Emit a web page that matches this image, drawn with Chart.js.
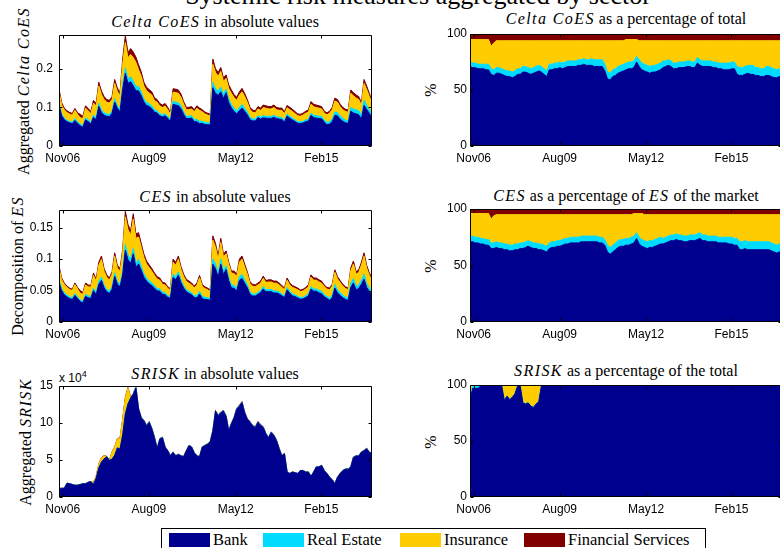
<!DOCTYPE html>
<html>
<head>
<meta charset="utf-8">
<script src="https://cdn.jsdelivr.net/npm/chart.js@4.4.0/dist/chart.umd.min.js"></script>
<style>
body { margin: 0; width: 780px; height: 548px; overflow: hidden; background: #fff; position: relative; font-family: 'Liberation Serif', serif; color: #000; }
canvas { position: absolute; }
.t { position: absolute; font-size: 16px; line-height: 16px; white-space: nowrap; transform: translateX(-50%); }
.yl { position: absolute; font-size: 16px; line-height: 16px; white-space: nowrap; transform: translate(-50%, -50%) rotate(-90deg); }
i { letter-spacing: 1.4px; }
#main { position: absolute; left: 418px; top: -17px; font-size: 26px; line-height: 26px; white-space: nowrap; transform: translateX(-50%); }
#exp { position: absolute; left: 59px; top: 369px; font: 12px 'Liberation Sans', sans-serif; }
#legend { position: absolute; left: 161px; top: 528px; width: 543px; height: 40px; border: 1px solid #000; background: #fff; }
#legend span { position: absolute; }
#legend .sw { top: 4px; width: 41px; height: 14px; }
#legend .lb { top: 2px; font-size: 16.5px; line-height: 18px; white-space: nowrap; }
</style>
</head>
<body>
<div id="main">Systemic risk measures aggregated by sector</div>

<div class="t" style="left:215px;top:14px"><i>Celta CoES</i> in absolute values</div>
<div class="t" style="left:626px;top:11px"><i>Celta CoES</i> as a percentage of total</div>
<div class="t" style="left:215px;top:189px"><i>CES</i> in absolute values</div>
<div class="t" style="left:626px;top:188px"><i>CES</i> as a percentage of <i>ES</i> of the market</div>
<div class="t" style="left:215px;top:366px"><i>SRISK</i> in absolute values</div>
<div class="t" style="left:626px;top:363px"><i>SRISK</i> as a percentage of the total</div>

<div class="yl" style="left:24px;top:91px">Aggregated <i>Celta CoES</i></div>
<div class="yl" style="left:18px;top:266px">Decomposition of <i>ES</i></div>
<div class="yl" style="left:26px;top:442px">Aggregated <i>SRISK</i></div>
<div class="yl" style="left:431px;top:90px">%</div>
<div class="yl" style="left:431px;top:266px">%</div>
<div class="yl" style="left:431px;top:442px">%</div>
<div id="exp">x 10<sup style="font-size:9px">4</sup></div>

<canvas id="c1" width="378" height="143" style="left:0;top:25px"></canvas>
<canvas id="c2" width="378" height="144" style="left:0;top:200px"></canvas>
<canvas id="c3" width="378" height="143" style="left:0;top:376px"></canvas>
<canvas id="c4" width="358" height="144" style="left:430px;top:24px"></canvas>
<canvas id="c5" width="358" height="145" style="left:430px;top:199px"></canvas>
<canvas id="c6" width="358" height="144" style="left:430px;top:375px"></canvas>

<div id="legend"></div>

<script>
const sectors = ['Bank', 'Real Estate', 'Insurance', 'Financial Services'];
const sectorColors = ['#00008f', '#00dcff', '#ffcc00', '#800000'];

// monthly samples, Oct 2006 .. Aug 2016
const tickLabels = ['Nov06', 'Aug09', 'May12', 'Feb15'];
const tickAt = [1.4, 33.9, 66.6, 98.9];

// aggregated totals (top of the stack)
const coesTotal = [0.148,0.112,0.098,0.091,0.087,0.084,0.097,0.086,0.082,0.077,
  0.104,0.097,0.089,0.118,0.110,0.165,0.142,0.128,0.120,0.118,
  0.128,0.172,0.150,0.138,0.225,0.285,0.242,0.252,0.243,0.230,
  0.210,0.192,0.165,0.152,0.146,0.140,0.125,0.120,0.110,0.106,
  0.110,0.100,0.087,0.148,0.147,0.145,0.134,0.115,0.100,0.100,
  0.102,0.094,0.104,0.098,0.094,0.088,0.085,0.082,0.225,0.200,
  0.190,0.203,0.176,0.184,0.158,0.145,0.133,0.126,0.140,0.149,
  0.136,0.120,0.100,0.093,0.091,0.102,0.098,0.106,0.104,0.102,
  0.102,0.106,0.100,0.098,0.098,0.089,0.105,0.100,0.095,0.089,
  0.083,0.082,0.085,0.090,0.093,0.115,0.108,0.106,0.104,0.102,
  0.090,0.086,0.090,0.100,0.124,0.120,0.108,0.100,0.095,0.093,
  0.145,0.138,0.132,0.128,0.112,0.172,0.155,0.136,0.118];

const cesTotal = [0.089,0.070,0.062,0.057,0.054,0.052,0.062,0.055,0.050,0.047,
  0.062,0.059,0.058,0.078,0.068,0.095,0.105,0.085,0.075,0.070,
  0.080,0.110,0.090,0.085,0.115,0.176,0.155,0.145,0.172,0.140,
  0.142,0.125,0.108,0.097,0.091,0.085,0.078,0.072,0.070,0.063,
  0.062,0.056,0.053,0.100,0.095,0.105,0.088,0.076,0.068,0.065,
  0.062,0.057,0.062,0.074,0.060,0.056,0.054,0.051,0.137,0.125,
  0.105,0.133,0.108,0.113,0.095,0.081,0.081,0.076,0.100,0.105,
  0.092,0.080,0.064,0.060,0.059,0.062,0.065,0.073,0.066,0.067,
  0.067,0.065,0.065,0.062,0.058,0.054,0.070,0.062,0.058,0.056,
  0.054,0.051,0.052,0.055,0.059,0.075,0.070,0.070,0.067,0.065,
  0.059,0.055,0.054,0.060,0.083,0.072,0.066,0.060,0.056,0.054,
  0.086,0.097,0.080,0.083,0.095,0.110,0.090,0.078,0.070];

// SRISK in units of 10^4
const sriskTotal = [1.2,1.2,1.2,1.9,1.8,1.7,1.6,1.6,1.7,1.8,
  1.8,2.0,2.1,2.0,2.8,4.5,5.3,5.6,5.5,5.0,
  6.1,6.8,7.9,8.0,10.5,13.5,14.8,13.5,14.0,14.9,
  12.0,10.8,10.4,9.7,10.2,9.3,8.1,6.6,7.9,8.1,
  6.8,6.3,5.6,6.1,5.6,5.8,5.6,5.5,6.3,7.0,
  6.8,6.0,5.6,5.5,6.8,7.0,7.2,7.5,9.0,11.7,
  11.1,11.5,11.7,11.0,9.0,10.0,10.8,12.0,12.4,12.9,
  11.5,10.6,10.2,9.7,9.5,10.2,9.8,9.5,8.6,8.1,
  8.8,8.4,7.7,6.6,5.6,5.9,3.4,3.2,3.4,3.3,
  3.2,3.6,3.6,3.4,3.4,2.8,3.4,4.1,4.1,4.3,
  3.6,3.2,2.7,2.35,1.8,2.7,3.2,3.6,3.8,3.8,
  4.1,5.4,5.6,5.6,6.1,6.3,6.6,6.1,5.9];

// sector shares in % (insurance is what is left)
const coesBankPct = [71,70,70,69,69,69,68,68,64,63,
  65,65,64,63,62,62,61,62,64,64,
  66,66,65,64,65,66,67,66,64,62,
  68,68,69,69,70,69,70,71,71,71,
  71,72,72,73,72,72,72,71,71,71,
  71,67,60,59,62,63,65,66,67,68,
  69,69,70,75,71,68,67,66,65,66,
  66,67,68,70,71,72,71,69,69,70,
  70,70,71,71,70,70,74,72,71,71,
  71,71,70,70,69,69,68,68,68,69,
  69,64,63,63,64,65,64,64,63,63,
  62,62,63,63,62,61,61,62,62];
const coesRePct = [4,4,4,4,4,4,5,5,5,5,
  5,5,5,5,5,5,5,5,5,5,
  5,5,5,5,5,5,5,5,5,5,
  5,5,5,5,5,5,5,5,5,5,
  5,5,5,5,5,5,6,6,6,6,
  6,6,6,6,6,6,6,6,6,6,
  6,6,6,5,6,6,6,6,6,6,
  6,6,6,6,5,5,5,5,5,5,
  5,5,5,5,5,5,5,5,5,5,
  5,5,5,5,5,5,6,6,6,6,
  6,7,7,7,7,7,8,8,7,7,
  7,7,8,8,8,8,7,7,7];
const coesFinPct = [5,5,5,5,5,5,5,5,11,8,
  6,6,6,6,6,6,6,6,6,6,
  6,6,6,6,6,6,6,6,6,6,
  6,6,6,6,6,6,6,6,6,6,
  6,6,6,6,6,6,6,6,6,6,
  6,6,6,6,6,6,6,6,6,5,
  5,5,5,5,6,6,6,6,6,6,
  6,6,6,6,6,6,6,6,6,6,
  6,6,6,6,6,6,6,6,6,6,
  6,6,6,6,6,6,6,6,6,6,
  6,6,6,6,6,6,6,6,6,6,
  6,6,6,6,6,6,6,6,6];

const cesBankPct = [71,71,70,70,69,69,68,68,65,65,
  66,65,65,64,64,63,63,64,64,65,
  65,66,67,66,65,65,64,64,63,62,
  65,66,66,67,67,68,69,69,70,70,
  70,70,71,71,71,71,71,71,71,70,
  70,68,62,60,62,64,66,67,67,68,
  68,69,70,74,69,67,66,65,66,66,
  67,68,69,69,70,71,72,72,73,72,
  72,71,71,72,72,72,73,74,72,72,
  71,71,71,71,70,70,70,70,69,69,
  68,68,64,64,65,64,64,64,64,64,
  64,64,64,64,63,62,61,62,62];
const cesRePct = [5,5,5,5,5,5,5,5,5,5,
  5,5,5,5,5,5,5,5,5,5,
  5,5,5,5,5,5,5,5,5,5,
  5,5,5,5,5,5,5,5,5,5,
  5,5,5,5,5,5,5,5,5,5,
  5,5,6,6,6,6,6,6,6,6,
  6,6,6,5,6,6,6,6,6,6,
  6,6,6,5,5,5,5,5,5,5,
  5,5,5,5,5,5,5,5,5,5,
  5,5,5,5,5,5,5,5,6,6,
  6,6,7,7,7,7,7,7,7,7,
  7,7,7,7,7,7,7,7,7];
const cesFinPct = [4,4,4,4,4,4,4,4,9,6,
  5,5,5,5,5,5,5,5,5,5,
  5,5,5,5,5,5,5,5,5,5,
  5,5,5,5,5,5,5,5,5,5,
  5,5,5,5,5,5,5,5,5,5,
  5,5,5,5,5,5,5,5,5,5,
  5,5,4,4,4,4,5,5,5,5,
  5,5,5,5,5,5,5,5,5,5,
  5,5,5,5,5,5,5,5,5,5,
  5,5,5,5,5,5,5,5,5,5,
  5,5,5,5,5,5,5,5,5,5,
  5,5,5,5,5,5,5,5,5];

const sriskBankPct = [86,97,97,97,99,99,99,99,99,99,
  99,99,99,86,90,87,89,92,99,99,
  84,83,84,81,80,83,85,99,99,99,
  99,99,99,99,99,99,99,99,99,99,
  99,99,99,99,99,99,99,99,99,99,
  99,99,99,99,99,99,99,99,99,99,
  99,99,99,99,99,99,99,99,99,99,
  99,99,99,99,99,99,99,99,99,99,
  99,99,99,99,99,99,99,99,99,99,
  99,99,99,99,99,99,99,99,99,99,
  99,99,99,99,99,99,99,99,99,99,
  99,99,99,99,99,99,99,99,99];
const sriskRePct = [0.3,2,2,2,0.3,0.3,0.3,0.3,0.3,0.3,
  0.3,0.3,0.3,0.3,0.3,0.3,0.3,0.3,0.3,0.3,
  0.3,0.3,0.3,0.3,0.3,0.3,0.3,0.3,0.3,0.3,
  0.3,0.3,0.3,0.3,0.3,0.3,0.3,0.3,0.3,0.3,
  0.3,0.3,0.3,0.3,0.3,0.3,0.3,0.3,0.3,0.3,
  0.3,0.3,0.3,0.3,0.3,0.3,0.3,0.3,0.3,0.3,
  0.3,0.3,0.3,0.3,0.3,0.3,0.3,0.3,0.3,0.3,
  0.3,0.3,0.3,0.3,0.3,0.3,0.3,0.3,0.3,0.3,
  0.3,0.3,0.3,0.3,0.3,0.3,0.3,0.3,0.3,0.3,
  0.3,0.3,0.3,0.3,0.3,0.3,0.3,0.3,0.3,0.3,
  0.3,0.3,0.3,0.3,0.3,0.3,0.3,0.3,0.3,0.3,
  0.3,0.3,0.3,0.3,0.3,0.3,0.3,0.3,0.3];
const sriskFinPct = [0.6,0.6,0.6,0.6,0.6,0.6,0.6,0.6,0.6,0.6,
  0.6,0.6,0.6,0.6,0.6,0.6,0.6,0.6,0.6,0.6,
  0.6,0.6,0.6,0.6,0.6,0.6,0.6,0.6,0.6,0.6,
  0.6,0.6,0.6,0.6,0.6,0.6,0.6,0.6,0.6,0.6,
  0.6,0.6,0.6,0.6,0.6,0.6,0.6,0.6,0.6,0.6,
  0.6,0.6,0.6,0.6,0.6,0.6,0.6,0.6,0.6,0.6,
  0.6,0.6,0.6,0.6,0.6,0.6,0.6,0.6,0.6,0.6,
  0.6,0.6,0.6,0.6,0.6,0.6,0.6,0.6,0.6,0.6,
  0.6,0.6,0.6,0.6,0.6,0.6,0.6,0.6,0.6,0.6,
  0.6,0.6,0.6,0.6,0.6,0.6,0.6,0.6,0.6,0.6,
  0.6,0.6,0.6,0.6,0.6,0.6,0.6,0.6,0.6,0.6,
  0.6,0.6,0.6,0.6,0.6,0.6,0.6,0.6,0.6];

const coesTicks = [0, 0.1, 0.2];
const cesTicks = [0, 0.05, 0.1, 0.15];
const sriskTicks = [0, 5, 10, 15];
const pctTicks = [0, 50, 100];

function sharesOf(bank, re, fin) {
  const ins = bank.map((b, i) => Math.max(0, 100 - b - re[i] - fin[i]));
  return [bank, re, ins, fin];
}

function absOf(total, shares) {
  return shares.map(s => s.map((p, i) => total[i] * p / 100));
}

// box round the plot with ticks pointing inwards, like matlab
const boxPlugin = {
  id: 'box',
  afterDatasetsDraw(chart) {
    const { ctx, chartArea: a, scales } = chart;
    const L = Math.round(a.left) + 0.5, R = Math.round(a.right) - 0.5;
    const T = Math.round(a.top) + 0.5, B = Math.round(a.bottom) - 0.5;
    ctx.save();
    ctx.strokeStyle = '#000';
    ctx.lineWidth = 1;
    ctx.beginPath();
    scales.x.ticks.forEach(t => {
      const px = Math.round(scales.x.getPixelForValue(t.value)) + 0.5;
      ctx.moveTo(px, T); ctx.lineTo(px, T + 3);
      ctx.moveTo(px, B); ctx.lineTo(px, B - 3);
    });
    scales.y.ticks.forEach(t => {
      const py = Math.round(scales.y.getPixelForValue(t.value)) + 0.5;
      ctx.moveTo(L, py); ctx.lineTo(L + 3, py);
      ctx.moveTo(R, py); ctx.lineTo(R - 3, py);
    });
    ctx.rect(L, T, R - L, B - T);
    ctx.stroke();
    ctx.restore();
  }
};

const tickFont = { family: 'Liberation Sans', size: 12 };

function areaChart(id, parts, yMax, yTicks, axisW, yPad) {
  new Chart(document.getElementById(id), {
    type: 'line',
    data: {
      datasets: sectors.map((name, k) => ({
        label: name,
        data: parts[k].map((v, i) => ({ x: i, y: v })),
        backgroundColor: sectorColors[k],
        borderColor: sectorColors[k],
        borderWidth: 1,
        fill: k === 0 ? 'origin' : '-1',
        pointRadius: 0,
        tension: 0
      }))
    },
    options: {
      responsive: false,
      animation: false,
      events: [],
      layout: { padding: { top: 10, right: 6, left: 0, bottom: 0 } },
      plugins: { legend: { display: false }, tooltip: { enabled: false } },
      scales: {
        x: {
          type: 'linear', min: 0, max: 118,
          grid: { display: false, drawTicks: false }, border: { display: false },
          afterBuildTicks: s => { s.ticks = tickAt.map(v => ({ value: v })); },
          afterFit: s => { s.height = 22; s.paddingLeft = 0; s.paddingRight = 0; },
          ticks: { autoSkip: false, maxRotation: 0, padding: 5, color: '#000', font: tickFont,
            callback: (v, idx) => tickLabels[idx] }
        },
        y: {
          stacked: true, min: 0, max: yMax,
          grid: { display: false, drawTicks: false }, border: { display: false },
          afterBuildTicks: s => { s.ticks = yTicks.map(v => ({ value: v })); },
          afterFit: s => { s.width = axisW; s.paddingTop = 0; s.paddingBottom = 0; },
          ticks: { padding: yPad, color: '#000', font: tickFont, callback: v => String(v) }
        }
      }
    },
    plugins: [boxPlugin]
  });
}

const coesShares = sharesOf(coesBankPct, coesRePct, coesFinPct);
const cesShares = sharesOf(cesBankPct, cesRePct, cesFinPct);
const sriskShares = sharesOf(sriskBankPct, sriskRePct, sriskFinPct);

areaChart('c1', absOf(coesTotal, coesShares), 0.287, coesTicks, 59, 6);
areaChart('c2', absOf(cesTotal, cesShares), 0.178, cesTicks, 59, 6);
areaChart('c3', absOf(sriskTotal, sriskShares), 15, sriskTicks, 59, 6);
areaChart('c4', coesShares, 100, pctTicks, 40, 3);
areaChart('c5', cesShares, 100, pctTicks, 40, 3);
areaChart('c6', sriskShares, 100, pctTicks, 40, 3);

// legend
const legend = document.getElementById('legend');
const swatchX = [7, 101, 238, 362];
const labelX = [51, 145, 282, 406];
sectors.forEach((name, k) => {
  const sw = document.createElement('span');
  sw.className = 'sw';
  sw.style.left = swatchX[k] + 'px';
  sw.style.background = sectorColors[k];
  legend.appendChild(sw);
  const lb = document.createElement('span');
  lb.className = 'lb';
  lb.style.left = labelX[k] + 'px';
  lb.textContent = name;
  legend.appendChild(lb);
});
</script>
</body>
</html>
